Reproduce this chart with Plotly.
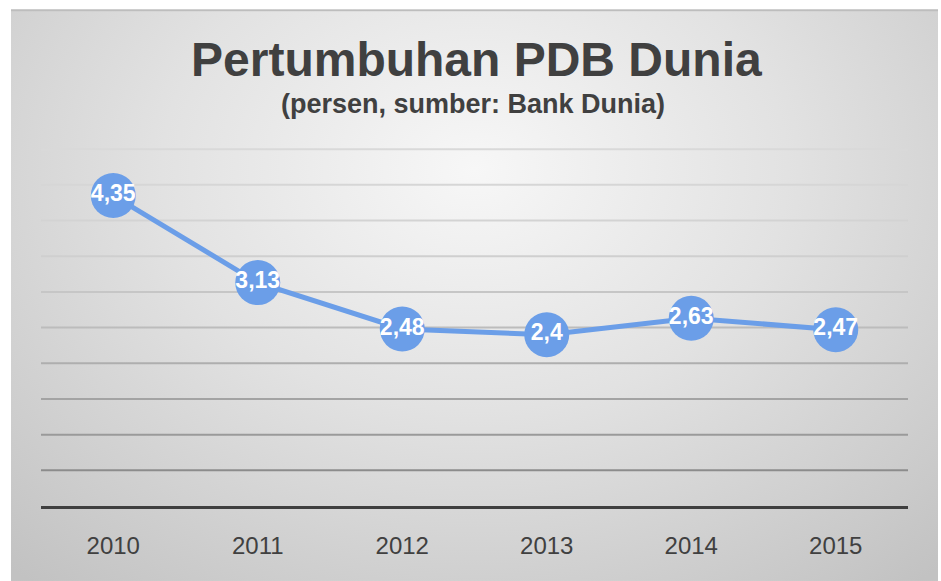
import base64
import plotly.graph_objects as go

# ---- data ----
years = ["2010", "2011", "2012", "2013", "2014", "2015"]
growth = [4.35, 3.13, 2.48, 2.40, 2.63, 2.47]
labels = [f"{v:g}".replace(".", ",") for v in growth]
y_ticks = [0.5, 1, 1.5, 2, 2.5, 3, 3.5, 4, 4.5, 5]

title_text = "Pertumbuhan PDB Dunia"
subtitle_text = "(persen, sumber: Bank Dunia)"

# gridline colours, bottom to top (they fade upward as in the reference)
grid_colors = ["#8c8c8c", "#9a9a9a", "#a3a3a3", "#aeaeae", "#bcbcbc",
               "#c6c6c6", "#cfcfcf", "#d3d3d3", "#d6d6d6", "#d9d9d9"]

# ---- background gradient (chart box) ----
svg = """<svg xmlns='http://www.w3.org/2000/svg' width='927' height='572' viewBox='0 0 927 572' preserveAspectRatio='none'>
<defs><radialGradient id='g' cx='0.5' cy='0.28' r='0.75' gradientTransform='translate(0.5 0.28) scale(1 1.25) translate(-0.5 -0.28)'>
<stop offset='0' stop-color='#f7f7f7'/>
<stop offset='0.45' stop-color='#e2e2e2'/>
<stop offset='1' stop-color='#c2c2c2'/>
</radialGradient></defs>
<rect x='0' y='0' width='927' height='572' fill='url(#g)'/>
<rect x='0' y='0' width='927' height='2' fill='#bdbdbd'/>
</svg>"""
bg_uri = "data:image/svg+xml;base64," + base64.b64encode(svg.encode()).decode()

W, H = 941, 581
Y_MAX = 5.03
ml, mr, mb = 41, 33, 75
ph = (H - mb - 149) * Y_MAX / 5.0
mt = H - mb - ph
pw = W - ml - mr

def px_to_paper_x(px):
    return (px - ml) / pw

def px_to_paper_y(py):
    return (H - mb - py) / ph

fig = go.Figure()
fig.add_trace(go.Scatter(
    x=years, y=growth, mode="lines+markers+text",
    text=labels, textposition="middle center",
    textfont=dict(family="Arial, Liberation Sans, sans-serif", size=23, color="white", weight="bold"),
    line=dict(color="#6b9ee8", width=5),
    marker=dict(size=45, color="#6b9ee8"),
    hoverinfo="skip", cliponaxis=False,
))

shapes = [
    dict(type="line", xref="paper", x0=0, x1=1, yref="y", y0=v, y1=v,
         line=dict(color=c, width=2), layer="below")
    for v, c in zip(y_ticks, grid_colors)
]

fig.update_layout(
    width=W, height=H,
    margin=dict(l=ml, r=mr, t=mt, b=mb),
    paper_bgcolor="white", plot_bgcolor="rgba(0,0,0,0)",
    showlegend=False,
    font=dict(family="Arial, Liberation Sans, sans-serif", color="#404040"),
    xaxis=dict(
        type="category", range=[-0.5, 5.5], showgrid=False, zeroline=False,
        showline=True, linecolor="#3f3f3f", linewidth=3,
        ticks="", tickfont=dict(size=24, color="#404040"),
        ticklabelstandoff=16, fixedrange=True,
    ),
    yaxis=dict(
        range=[0, Y_MAX], showticklabels=False, showgrid=False,
        zeroline=False, showline=False, ticks="", fixedrange=True,
    ),
    shapes=shapes,
    images=[dict(
        source=bg_uri, xref="paper", yref="paper",
        x=px_to_paper_x(11), y=px_to_paper_y(9),
        sizex=px_to_paper_x(938) - px_to_paper_x(11),
        sizey=px_to_paper_y(9) - px_to_paper_y(581),
        xanchor="left", yanchor="top", sizing="stretch", layer="below",
    )],
    annotations=[
        dict(text=f"<b>{title_text}</b>", xref="paper", yref="paper",
             x=px_to_paper_x(476), y=px_to_paper_y(59), xanchor="center", yanchor="middle",
             showarrow=False, font=dict(size=48, color="#404040")),
        dict(text=f"<b>{subtitle_text}</b>", xref="paper", yref="paper",
             x=px_to_paper_x(473), y=px_to_paper_y(104), xanchor="center", yanchor="middle",
             showarrow=False, font=dict(size=27, color="#404040")),
    ],
)

fig.write_html("out.html", config={"displayModeBar": False},
               post_script="document.body.style.margin='0';document.body.style.overflow='hidden';")
